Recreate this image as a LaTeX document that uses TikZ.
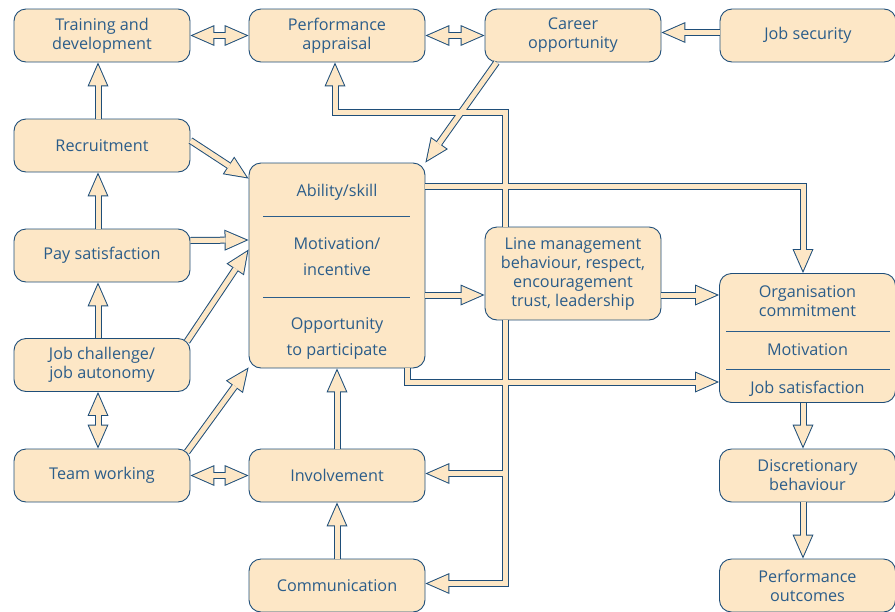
\documentclass[tikz,border=0pt]{standalone}
\usepackage{fontspec}
\setmainfont{Open Sans}
\usepackage{tikz}
\usetikzlibrary{arrows.meta}
\definecolor{cream}{HTML}{FDE7C6}
\definecolor{frame}{HTML}{1F4E79}
\definecolor{ink}{HTML}{2B5D8A}
\tikzset{
  box/.style={draw=frame, fill=cream, line width=0.9pt, rounded corners=12pt,
    minimum width=176pt, minimum height=53pt, align=center, text=ink,
    font=\fontsize{16.2}{19}\selectfont, inner sep=2pt},
  boxtext/.style={text=ink, font=\fontsize{16.2}{19}\selectfont, inner sep=0pt, align=center},
  sepline/.style={draw=ink, line width=0.7pt},
  pipeout/.style={draw=frame, line width=7pt,
    >={Triangle[length=24pt,width=21pt,line width=0pt]}},
  pipein/.style={draw=cream, line width=5pt,
    >={Triangle[length=20.5pt,width=18pt,line width=0pt]}},
}

\begin{document}
\begin{tikzpicture}[x=1pt,y=-1pt]
  \useasboundingbox (0,0) rectangle (895,611);

  % left column
  \node[box] (train) at (102,35.5) {Training and\\development};
  \node[box] (recruit) at (102,145.5) {Recruitment};
  \node[box] (pay) at (102,255.5) {Pay satisfaction};
  \node[box] (challenge) at (102,365) {Job challenge/\\job autonomy};
  \node[box] (team) at (102,475.5) {Team working};

  % middle column
  \node[box] (perf) at (337,35.5) {Performance\\appraisal};
  \node[box, minimum height=205pt] (abilbox) at (337,265.5) {};
  \node[box] (involve) at (337,475.5) {Involvement};
  \node[box] (comm) at (337,585.5) {Communication};

  % text inside the big box
  \node[boxtext, anchor=base] (skilltxt) at (337,196) {Ability/skill};
  \node[boxtext, anchor=base] (motivtxt) at (337,249) {Motivation/};
  \node[boxtext, anchor=base] (incentxt) at (337,275) {incentive};
  \node[boxtext, anchor=base] (opportxt) at (337,329) {Opportunity};
  \node[boxtext, anchor=base] (particitxt) at (337,355) {to participate};
  \draw[sepline] (263,216) -- (410,216);
  \draw[sepline] (263,297) -- (410,297);

  % right part
  \node[box] (career) at (573,35.5) {Career\\opportunity};
  \node[box] (secure) at (808,35.5) {Job security};
  \node[box, minimum height=93pt] (linem) at (573,273.5)
    {Line management\\behaviour, respect,\\encouragement\\trust, leadership};
  \node[box, minimum height=129pt] (org) at (807.5,338) {};
  \node[boxtext] (commitxt) at (807.5,301) {Organisation\\commitment};
  \node[boxtext, anchor=base] (motiv2txt) at (807.5,355) {Motivation};
  \node[boxtext, anchor=base] (satistxt) at (807.5,393) {Job satisfaction};
  \draw[sepline] (726,331) -- (890,331);
  \draw[sepline] (726,369) -- (890,369);
  \node[box] (discr) at (807.5,475.5) {Discretionary\\behaviour};
  \node[box] (outcome) at (807.5,585.5) {Performance\\outcomes};

  % hollow arrows: dark outline first, then cream inside
  \foreach \lay/\back in {pipeout/0pt,pipein/2.5pt}{
    \begin{scope}[\lay, shorten >=\back]
      \draw[<->, shorten <=\back] (train.east) -- (perf.west);
      \draw[<->, shorten <=\back] (perf.east) -- (career.west);
      \draw[->] ([yshift=3pt]secure.west) -- ([yshift=3pt]career.east);

      \draw[->] ([xshift=-4pt]recruit.north) -- ([xshift=-4pt]train.south);
      \draw[->] ([xshift=-4pt]pay.north) -- ([xshift=-4pt]recruit.south);
      \draw[->] ([xshift=-4pt]challenge.north) -- ([xshift=-4pt]pay.south);
      \draw[<->, shorten <=\back] ([xshift=-4pt]challenge.south) -- ([xshift=-4pt]team.north);

      \draw[->] ([yshift=5pt]recruit.east) -- ([yshift=-16pt]abilbox.north west);
      \draw[->] ([yshift=15pt]pay.east) -- ([yshift=25.5pt]abilbox.west);
      \draw[->] ([xshift=-3.5pt,yshift=-3.5pt]challenge.north east) -- ([yshift=-87pt]abilbox.north west);
      \draw[->] ([xshift=-3.5pt,yshift=-3.5pt]team.north east) -- ([yshift=1pt]abilbox.south west);
      \draw[<->, shorten <=\back] (team.east) -- (involve.west);

      \draw[->] (involve.north) -- (abilbox.south);
      \draw[->] (comm.north) -- (involve.south);

      \draw[->] ([xshift=12pt]career.south west) -- (abilbox.north east);
      \draw[->] ([xshift=-68pt]linem.north) -- ++(0,-114) -| ([xshift=-2pt]perf.south);
      \draw[->] ([xshift=-68pt]linem.south) |- ([yshift=2pt]involve.east);
      \draw[->] ([xshift=-68pt]linem.south) |- ([yshift=2pt]comm.east);

      \draw[->] ([yshift=-29.5pt]abilbox.east) -- ([yshift=-21.5pt]linem.west);
      \draw[->] ([yshift=-21.5pt]linem.east) -- ([yshift=43pt]org.west);
      \draw[->] ([yshift=79.5pt]abilbox.east) -| ([xshift=-4.5pt]org.north);
      \draw[->] ([xshift=-18pt]abilbox.south east) |- ([yshift=-44pt]org.west);

      \draw[->] ([xshift=-4.5pt]org.south) -- ([xshift=-4.5pt]discr.north);
      \draw[->] ([xshift=-4.5pt]discr.south) -- ([xshift=-4.5pt]outcome.north);
    \end{scope}
  }
\end{tikzpicture}
\end{document}
